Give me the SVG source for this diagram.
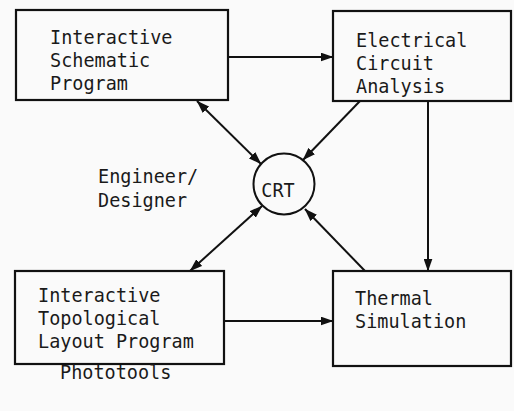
<svg xmlns="http://www.w3.org/2000/svg" width="514" height="411" viewBox="0 0 514 411">
<style>
.box{fill:none;stroke:#111;stroke-width:2.2}
.t{font-family:"DejaVu Sans Mono","Liberation Mono",monospace;font-size:18.5px;fill:#1a1a1a}
.c{stroke:#111;stroke-width:2;fill:none}
</style>
<defs>
<marker id="ah" viewBox="0 0 13 9" refX="12.5" refY="4.5" markerWidth="13" markerHeight="9" markerUnits="userSpaceOnUse" orient="auto-start-reverse">
<path d="M0,0 L13,4.5 L0,9 Z" fill="#111"/>
</marker>
</defs>
<rect width="514" height="411" fill="#fafafa"/>
<g id="schematic">
<rect class="box" x="16" y="10" width="212" height="90"/>
<text class="t" transform="translate(50,44) scale(1,1.06)">Interactive</text>
<text class="t" transform="translate(50,67) scale(1,1.06)">Schematic</text>
<text class="t" transform="translate(50,90) scale(1,1.06)">Program</text>
</g>
<g id="electrical">
<rect class="box" x="333" y="11" width="178" height="90"/>
<text class="t" transform="translate(356,47) scale(1,1.06)">Electrical</text>
<text class="t" transform="translate(356,70) scale(1,1.06)">Circuit</text>
<text class="t" transform="translate(356,93) scale(1,1.06)">Analysis</text>
</g>
<g id="topological">
<rect class="box" x="15" y="271" width="209" height="93"/>
<text class="t" transform="translate(38,302) scale(1,1.06)">Interactive</text>
<text class="t" transform="translate(38,325) scale(1,1.06)">Topological</text>
<text class="t" transform="translate(38,348) scale(1,1.06)">Layout Program</text>
</g>
<g id="thermal">
<rect class="box" x="333" y="271" width="178" height="95"/>
<text class="t" transform="translate(355,305) scale(1,1.06)">Thermal</text>
<text class="t" transform="translate(355,328) scale(1,1.06)">Simulation</text>
</g>
<g id="crt">
<circle cx="284" cy="184" r="30.5" fill="none" stroke="#111" stroke-width="2"/>
<text class="t" text-anchor="middle" transform="translate(278,197) scale(1,1.06)">CRT</text>
</g>
<g id="engineer">
<text class="t" transform="translate(98,183) scale(1,1.06)">Engineer/</text>
<text class="t" transform="translate(98,207) scale(1,1.06)">Designer</text>
</g>
<g id="phototools">
<text class="t" transform="translate(60,379) scale(1,1.06)">Phototools</text>
</g>
<g id="connectors">
<line class="c" x1="228" y1="57" x2="333" y2="57" marker-end="url(#ah)"/>
<line class="c" x1="224" y1="321" x2="333" y2="321" marker-end="url(#ah)"/>
<line class="c" x1="428" y1="101" x2="428" y2="271" marker-end="url(#ah)"/>
<line class="c" x1="197" y1="101" x2="261" y2="164" marker-start="url(#ah)" marker-end="url(#ah)"/>
<line class="c" x1="360" y1="101" x2="303" y2="160" marker-end="url(#ah)"/>
<line class="c" x1="262" y1="206" x2="190" y2="271" marker-start="url(#ah)" marker-end="url(#ah)"/>
<line class="c" x1="365" y1="271" x2="305" y2="209" marker-end="url(#ah)"/>
</g>
</svg>
